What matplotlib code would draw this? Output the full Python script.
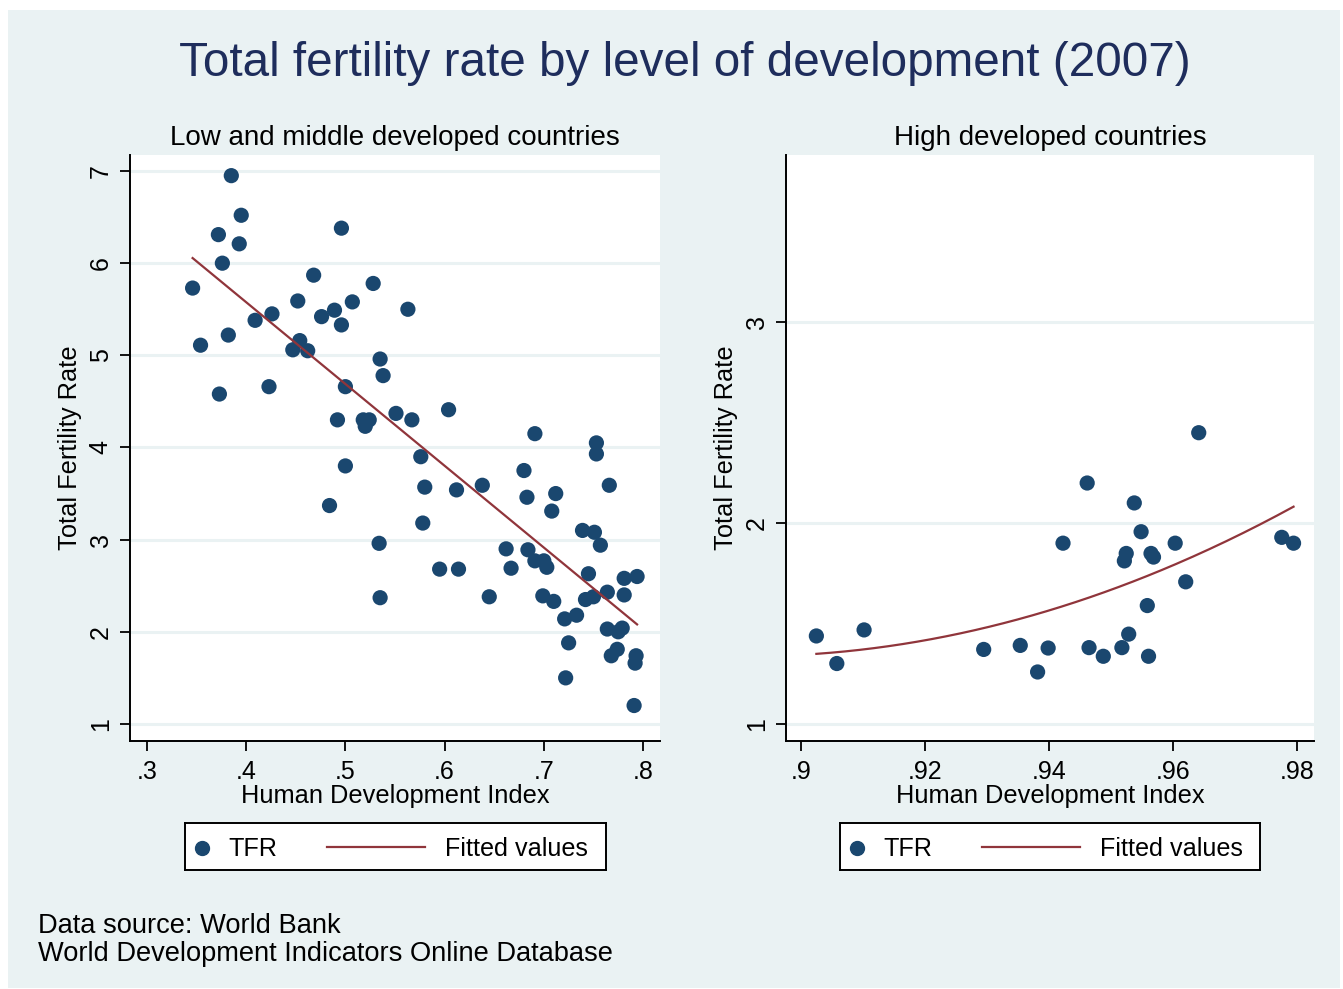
import numpy as np
import matplotlib
matplotlib.use("Agg")
import matplotlib.pyplot as plt
from matplotlib.patches import Rectangle
from matplotlib.lines import Line2D

plt.rcParams['font.family'] = ['Liberation Sans', 'DejaVu Sans']

# ---------------- data ----------------
low_hdi = [0.346, 0.354, 0.372, 0.376, 0.385, 0.395, 0.393, 0.382, 0.373, 0.409,
           0.426, 0.423, 0.452, 0.454, 0.447, 0.462, 0.468, 0.476, 0.489, 0.496,
           0.496, 0.507, 0.528, 0.563, 0.500, 0.492, 0.518, 0.520, 0.524, 0.535,
           0.538, 0.500, 0.484, 0.534, 0.535, 0.551, 0.567, 0.576, 0.580, 0.578,
           0.604, 0.595, 0.614, 0.612, 0.638, 0.645, 0.680, 0.683, 0.691, 0.662,
           0.667, 0.684, 0.691, 0.700, 0.703, 0.708, 0.712, 0.699, 0.710, 0.721,
           0.733, 0.725, 0.722, 0.739, 0.751, 0.753, 0.753, 0.757, 0.766, 0.745,
           0.742, 0.750, 0.764, 0.781, 0.781, 0.794, 0.764, 0.775, 0.779, 0.774,
           0.768, 0.793, 0.792, 0.791]
low_tfr = [5.73, 5.11, 6.31, 6.00, 6.95, 6.52, 6.21, 5.22, 4.58, 5.38,
           5.45, 4.66, 5.59, 5.16, 5.06, 5.05, 5.87, 5.42, 5.49, 5.33,
           6.38, 5.58, 5.78, 5.50, 4.66, 4.30, 4.30, 4.23, 4.30, 4.96,
           4.78, 3.80, 3.37, 2.96, 2.37, 4.37, 4.30, 3.90, 3.57, 3.18,
           4.41, 2.68, 2.68, 3.54, 3.59, 2.38, 3.75, 3.46, 4.15, 2.90,
           2.69, 2.89, 2.77, 2.77, 2.70, 3.31, 3.50, 2.39, 2.33, 2.14,
           2.18, 1.88, 1.50, 3.10, 3.08, 4.05, 3.93, 2.94, 3.59, 2.63,
           2.35, 2.38, 2.43, 2.40, 2.58, 2.60, 2.03, 2.00, 2.04, 1.81,
           1.74, 1.74, 1.66, 1.20]

high_hdi = [0.9024, 0.9057, 0.9101, 0.9294, 0.9353, 0.9381, 0.9398, 0.9422, 0.9461,
            0.9464, 0.9487, 0.9517, 0.9528, 0.9524, 0.9521, 0.9537, 0.9548, 0.9564,
            0.9568, 0.9558, 0.9560, 0.9603, 0.9620, 0.9641, 0.9775, 0.9794]
high_tfr = [1.439, 1.302, 1.469, 1.372, 1.392, 1.260, 1.379, 1.900, 2.199,
            1.381, 1.338, 1.381, 1.448, 1.849, 1.812, 2.100, 1.957, 1.849,
            1.831, 1.590, 1.338, 1.900, 1.708, 2.449, 1.929, 1.900]

low_xticks = [0.3, 0.4, 0.5, 0.6, 0.7, 0.8]
low_xticklabels = ['.3', '.4', '.5', '.6', '.7', '.8']
low_yticks = [1, 2, 3, 4, 5, 6, 7]
high_xticks = [0.90, 0.92, 0.94, 0.96, 0.98]
high_xticklabels = ['.9', '.92', '.94', '.96', '.98']
high_yticks = [1, 2, 3]

title = 'Total fertility rate by level of development (2007)'
subtitles = ['Low and middle developed countries', 'High developed countries']
xlabel = 'Human Development Index'
ylabel = 'Total Fertility Rate'
legend_labels = ['TFR', 'Fitted values']
note = 'Data source: World Bank\nWorld Development Indicators Online Database'

# ---------------- style ----------------
W, H = 1343, 989
BG = '#EAF2F3'
NAVY = '#1A476F'
MAROON = '#90353B'
TITLE_C = '#1E2D5C'
FS_TICK = 18
FS_SUB = 20
FS_LAB = 18.3
FS_LEG = 18.1
FS_NOTE = 19.6

fig = plt.figure(figsize=(W / 100, H / 100), dpi=100)
fig.patch.set_facecolor('white')


def fx(px):
    return px / W


def fy(py):
    return 1 - py / H


fig.patches.append(Rectangle((fx(8), fy(988)), fx(1340) - fx(8), fy(10) - fy(988),
                             transform=fig.transFigure, facecolor=BG, edgecolor='none', zorder=-10))

fig.text(fx(685), fy(63), title, ha='center', va='center', fontsize=34.3, color=TITLE_C)


def make_panel(box, xs, ys, xlim, ylim, xticks, xtl, yticks, sub, deg):
    l, r, t, b = box
    ax = fig.add_axes([fx(l), fy(b), fx(r) - fx(l), fy(t) - fy(b)])
    ax.set_facecolor('white')
    for s in ['top', 'right']:
        ax.spines[s].set_visible(False)
    for s in ['left', 'bottom']:
        ax.spines[s].set_linewidth(1.4)
        ax.spines[s].set_color('black')
    ax.set_xlim(*xlim)
    ax.set_ylim(*ylim)
    ax.set_xticks(xticks)
    ax.set_xticklabels(xtl)
    ax.set_yticks(yticks)
    ax.set_yticklabels([str(v) for v in yticks])
    ax.tick_params(axis='both', direction='out', length=7.5, width=1.3, labelsize=FS_TICK,
                   color='black')
    ax.tick_params(axis='y', labelrotation=90, pad=5)
    ax.tick_params(axis='x', pad=6)
    for lab in ax.get_yticklabels():
        lab.set_va('center')
    ax.grid(axis='y', color=BG, linewidth=2.2)
    ax.set_axisbelow(True)
    ax.scatter(xs, ys, s=120, color=NAVY, edgecolors='none', zorder=3)
    coef = np.polyfit(xs, ys, deg)
    xx = np.linspace(min(xs), max(xs), 200)
    ax.plot(xx, np.polyval(coef, xx), color=MAROON, lw=1.6, zorder=4)
    ax.set_title(sub, fontsize=FS_SUB, pad=7)
    ax.set_xlabel(xlabel, fontsize=FS_LAB, labelpad=0.5)
    ax.set_ylabel(ylabel, fontsize=FS_LAB, labelpad=5)
    return ax


make_panel((130, 660, 155, 741), low_hdi, low_tfr, (0.2829, 0.8171), (0.815, 7.174),
           low_xticks, low_xticklabels, low_yticks, subtitles[0], 1)
make_panel((786, 1314, 155, 741), high_hdi, high_tfr, (0.8975, 0.9827), (0.917, 3.829),
           high_xticks, high_xticklabels, high_yticks, subtitles[1], 2)


def make_legend(l, r, t, b):
    lax = fig.add_axes([fx(l), fy(b), fx(r) - fx(l), fy(t) - fy(b)])
    lax.set_xlim(0, r - l)
    lax.set_ylim(b - t, 0)
    lax.set_xticks([])
    lax.set_yticks([])
    lax.set_facecolor('white')
    for s in lax.spines.values():
        s.set_linewidth(1.4)
        s.set_color('black')
    yc = (b - t) / 2
    lax.add_line(Line2D([17], [yc + 1], marker='o', markersize=10, color=NAVY, linestyle='none'))
    lax.text(43, yc + 10, legend_labels[0], ha='left', va='baseline', fontsize=FS_LEG)
    lax.add_line(Line2D([142, 240], [yc, yc], color=MAROON, lw=1.6))
    lax.text(260, yc + 10, legend_labels[1], ha='left', va='baseline', fontsize=FS_LEG)


make_legend(185, 606, 823, 870)
make_legend(840, 1260, 823, 870)

fig.text(fx(38), fy(940), note, ha='left', va='center', fontsize=FS_NOTE, linespacing=1.07)

fig.savefig('out.png', dpi=100, facecolor=fig.get_facecolor())
